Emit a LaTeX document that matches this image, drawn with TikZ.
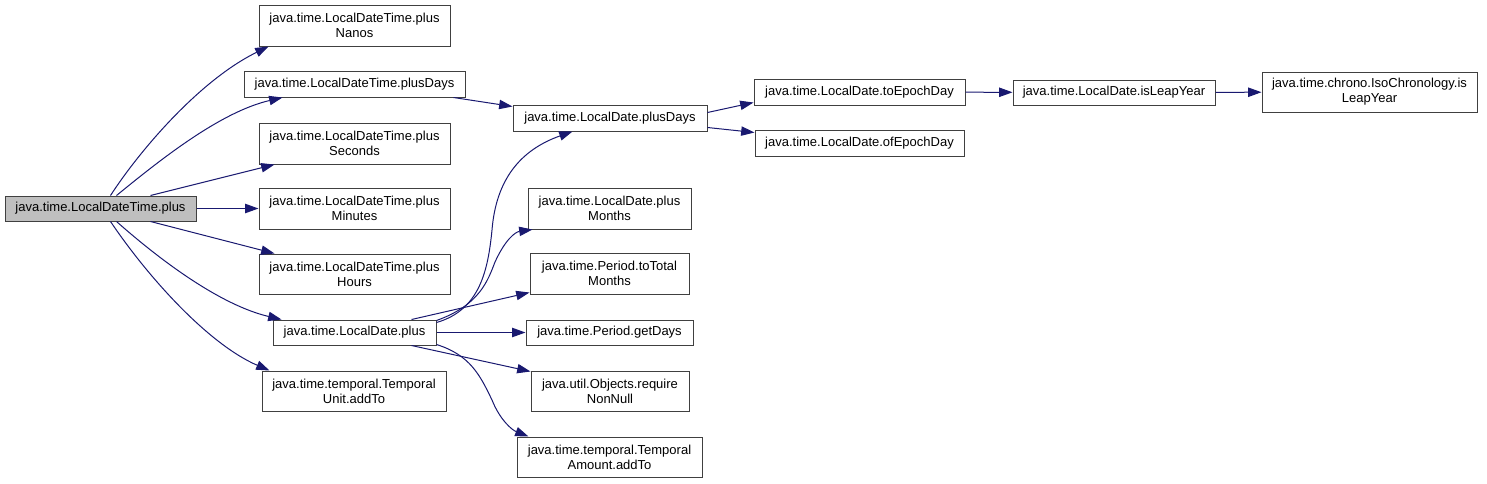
\documentclass[tikz,border=0pt]{standalone}
\usepackage{fontspec}
\setmainfont{Liberation Sans}
\usetikzlibrary{arrows.meta,calc}
\definecolor{edgecol}{RGB}{25,25,112}
\definecolor{rootfill}{RGB}{191,191,191}
\definecolor{boxline}{RGB}{64,64,64}
\tikzset{
  fn/.style={draw=boxline, line width=0.75pt, fill=white, inner sep=0pt, align=center,
    font=\fontsize{9.75}{11.25}\selectfont},
  bx/.style 2 args={minimum width=#1*0.75pt, minimum height=#2*0.75pt},
  call/.style={draw=edgecol, line width=0.75pt, -{Triangle[length=10pt,width=7pt]}},
}
\begin{document}
\begin{tikzpicture}[x=0.75pt,y=-0.75pt]
\useasboundingbox (0,0) rectangle (1487,483);
% nodes
\node[fn, fill=rootfill, bx={191}{25}] (root) at (100.5,208.5) {java.time.LocalDateTime.plus};
\node[fn, bx={191}{41}] (nanos) at (354.5,25.5) {java.time.LocalDateTime.plus\\Nanos};
\node[fn, bx={221}{26}] (ldtpd) at (354.5,84) {java.time.LocalDateTime.plusDays};
\node[fn, bx={191}{41}] (seconds) at (354.5,143.5) {java.time.LocalDateTime.plus\\Seconds};
\node[fn, bx={191}{41}] (minutes) at (354.5,208.5) {java.time.LocalDateTime.plus\\Minutes};
\node[fn, bx={191}{40}] (hours) at (354.5,274) {java.time.LocalDateTime.plus\\Hours};
\node[fn, bx={163}{25}] (ldplus) at (354.5,332.5) {java.time.LocalDate.plus};
\node[fn, bx={184}{40}] (tuadd) at (354,391) {java.time.temporal.Temporal\\Unit.addTo};
\node[fn, bx={194}{26}] (ldpd) at (610,118) {java.time.LocalDate.plusDays};
\node[fn, bx={211}{26}] (toepoch) at (859.5,92) {java.time.LocalDate.toEpochDay};
\node[fn, bx={209}{26}] (ofepoch) at (859.5,143) {java.time.LocalDate.ofEpochDay};
\node[fn, bx={163}{41}] (plusmonths) at (609.5,208.5) {java.time.LocalDate.plus\\Months};
\node[fn, bx={159}{41}] (ttm) at (609.5,273.5) {java.time.Period.toTotal\\Months};
\node[fn, bx={167}{25}] (getdays) at (609.5,332.5) {java.time.Period.getDays};
\node[fn, bx={158}{40}] (rnn) at (610,391) {java.util.Objects.require\\NonNull};
\node[fn, bx={185}{40}] (taadd) at (609.5,457) {java.time.temporal.Temporal\\Amount.addTo};
\node[fn, bx={202}{25}] (isleap) at (1114,92.5) {java.time.LocalDate.isLeapYear};
\node[fn, bx={215}{40}] (iso) at (1369.5,92) {java.time.chrono.IsoChronology.is\\LeapYear};
% edges
\draw[call] ($(root.north)+(10,0)$) .. controls (140,150) and (200,80) .. ($(nanos.south west)+(10,0)$);
\draw[call] ($(root.north)+(16,0)$) .. controls (160,160) and (220,112) .. ($(ldtpd.south west)+(39,0)$);
\draw[call] ($(root.north)+(50,0)$) -- ($(seconds.south west)+(16,0)$);
\draw[call] (root) -- (minutes);
\draw[call] ($(root.south)+(50,0)$) -- ($(hours.north west)+(16,0)$);
\draw[call] ($(root.south)+(16,0)$) .. controls (160,260) and (220,305) .. ($(ldplus.north west)+(9,0)$);
\draw[call] ($(root.south)+(10,0)$) .. controls (150,280) and (210,345) .. ($(tuadd.north west)+(8,0)$);
\draw[call] ($(ldtpd.south east)+(-12,0)$) -- ($(ldpd.north west)+(0,2)$);
\draw[call] ($(ldplus.north east)+(0,3)$) .. controls (480,310) and (488,270) .. (492,230)
  .. controls (496,180) and (520,150) .. ($(ldpd.south west)+(60,0)$);
\draw[call] ($(ldplus.north east)+(0,1)$) .. controls (480,305) and (488,280) .. (495,262)
  .. controls (505,240) and (515,232) .. ($(plusmonths.south west)+(5,0)$);
\draw[call] ($(ldplus.north east)+(-25,0)$) -- ($(ttm.south west)+(0,-2)$);
\draw[call] (ldplus) -- (getdays);
\draw[call] ($(ldplus.south east)+(-25,0)$) -- ($(rnn.north west)+(0,1)$);
\draw[call] ($(ldplus.south east)+(0,-1)$) .. controls (470,355) and (480,375) .. (492,400)
  .. controls (500,420) and (512,430) .. ($(taadd.north west)+(12,0)$);
\draw[call] ($(ldpd.north east)+(0,8)$) -- ($(toepoch.south west)+(0,-3)$);
\draw[call] ($(ldpd.south east)+(0,-4)$) -- ($(ofepoch.north west)+(0,3)$);
\draw[call] (toepoch) -- (isleap);
\draw[call] (isleap) -- (iso);
\end{tikzpicture}
\end{document}
